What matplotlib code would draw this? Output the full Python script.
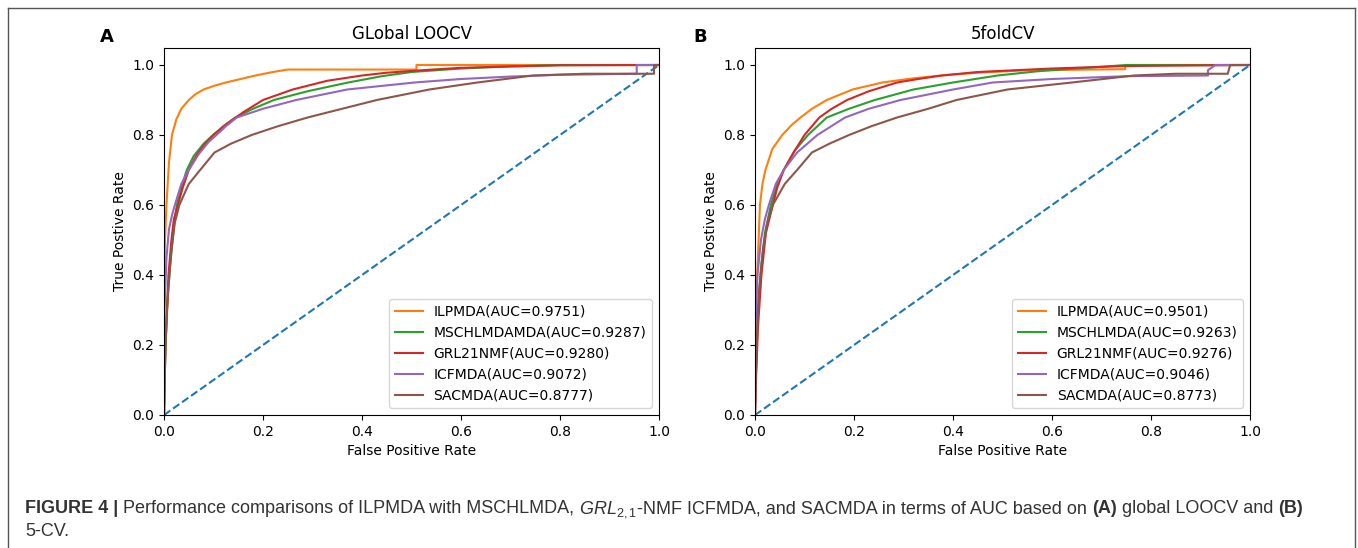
import matplotlib
matplotlib.use("Agg")
import matplotlib.pyplot as plt
from matplotlib.lines import Line2D

# ---- data ----
methods_a = ["ILPMDA(AUC=0.9751)", "MSCHLMDAMDA(AUC=0.9287)", "GRL21NMF(AUC=0.9280)",
             "ICFMDA(AUC=0.9072)", "SACMDA(AUC=0.8777)"]
methods_b = ["ILPMDA(AUC=0.9501)", "MSCHLMDA(AUC=0.9263)", "GRL21NMF(AUC=0.9276)",
             "ICFMDA(AUC=0.9046)", "SACMDA(AUC=0.8773)"]

# panel A : global LOOCV
a_ilpmda_fpr = [0, 0, 0.002, 0.005, 0.01, 0.016, 0.025, 0.035, 0.05, 0.065, 0.08, 0.1, 0.125, 0.155, 0.185, 0.22, 0.25, 0.51, 0.51, 1.0]
a_ilpmda_tpr = [0, 0.38, 0.5, 0.6, 0.72, 0.8, 0.845, 0.875, 0.9, 0.918, 0.93, 0.94, 0.95, 0.96, 0.97, 0.98, 0.987, 0.987, 1.0, 1.0]
a_msch_fpr = [0, 0.002, 0.006, 0.012, 0.02, 0.026, 0.035, 0.046, 0.06, 0.08, 0.099, 0.12, 0.144, 0.18, 0.222, 0.29, 0.372, 0.44, 0.5, 0.6, 0.7, 0.8, 1.0]
a_msch_tpr = [0, 0.15, 0.3, 0.42, 0.54, 0.6, 0.65, 0.7, 0.74, 0.775, 0.8, 0.825, 0.85, 0.875, 0.9, 0.925, 0.95, 0.968, 0.98, 0.99, 0.996, 1.0, 1.0]
a_grl_fpr = [0, 0.003, 0.006, 0.009, 0.015, 0.02, 0.028, 0.038, 0.05, 0.065, 0.08, 0.1, 0.125, 0.16, 0.2, 0.26, 0.33, 0.4, 0.45, 0.52, 0.6, 0.7, 0.8, 1.0]
a_grl_tpr = [0, 0.2, 0.3, 0.4, 0.5, 0.56, 0.6, 0.65, 0.7, 0.74, 0.77, 0.8, 0.83, 0.865, 0.9, 0.93, 0.955, 0.97, 0.978, 0.985, 0.992, 0.996, 0.999, 1.0]
a_icf_fpr = [0, 0.001, 0.005, 0.01, 0.016, 0.022, 0.035, 0.05, 0.07, 0.09, 0.106, 0.125, 0.147, 0.2, 0.267, 0.37, 0.506, 0.6, 0.7, 0.8, 0.955, 0.955, 1.0]
a_icf_tpr = [0, 0.3, 0.45, 0.53, 0.57, 0.6, 0.66, 0.7, 0.745, 0.78, 0.8, 0.825, 0.85, 0.875, 0.9, 0.93, 0.95, 0.96, 0.967, 0.972, 0.975, 1.0, 1.0]
a_sac_fpr = [0, 0.003, 0.008, 0.015, 0.022, 0.031, 0.05, 0.073, 0.102, 0.135, 0.177, 0.23, 0.29, 0.36, 0.43, 0.536, 0.633, 0.746, 0.85, 0.99, 0.99, 1.0]
a_sac_tpr = [0, 0.2, 0.35, 0.47, 0.55, 0.6, 0.66, 0.7, 0.75, 0.775, 0.8, 0.825, 0.85, 0.875, 0.9, 0.93, 0.95, 0.97, 0.975, 0.975, 1.0, 1.0]

# panel B : 5-fold CV
b_ilpmda_fpr = [0, 0.0, 0.002, 0.0045, 0.01, 0.015, 0.021, 0.035, 0.055, 0.075, 0.092, 0.115, 0.145, 0.197, 0.257, 0.32, 0.377, 0.45, 0.55, 0.748, 0.748, 1.0]
b_ilpmda_tpr = [0, 0.25, 0.33, 0.4, 0.6, 0.66, 0.7, 0.76, 0.8, 0.83, 0.85, 0.875, 0.9, 0.93, 0.95, 0.962, 0.97, 0.978, 0.985, 0.988, 1.0, 1.0]
b_msch_fpr = [0, 0.002, 0.006, 0.012, 0.02, 0.032, 0.045, 0.058, 0.08, 0.107, 0.145, 0.19, 0.242, 0.32, 0.4, 0.49, 0.57, 0.65, 0.75, 1.0]
b_msch_tpr = [0, 0.12, 0.3, 0.42, 0.52, 0.6, 0.66, 0.7, 0.755, 0.8, 0.85, 0.875, 0.9, 0.93, 0.95, 0.97, 0.982, 0.99, 1.0, 1.0]
b_grl_fpr = [0, 0.002, 0.006, 0.013, 0.022, 0.036, 0.045, 0.058, 0.078, 0.1, 0.13, 0.155, 0.186, 0.23, 0.287, 0.33, 0.377, 0.45, 0.6, 0.75, 1.0]
b_grl_tpr = [0, 0.1, 0.25, 0.4, 0.52, 0.6, 0.65, 0.7, 0.75, 0.8, 0.85, 0.875, 0.9, 0.925, 0.95, 0.96, 0.97, 0.98, 0.99, 0.997, 1.0]
b_icf_fpr = [0, 0.001, 0.005, 0.012, 0.02, 0.028, 0.042, 0.058, 0.085, 0.126, 0.182, 0.23, 0.294, 0.4, 0.48, 0.6, 0.75, 0.915, 0.915, 0.93, 1.0]
b_icf_tpr = [0, 0.25, 0.4, 0.5, 0.56, 0.6, 0.66, 0.7, 0.75, 0.8, 0.85, 0.875, 0.9, 0.93, 0.95, 0.96, 0.968, 0.97, 0.985, 1.0, 1.0]
b_sac_fpr = [0, 0.003, 0.008, 0.016, 0.025, 0.036, 0.06, 0.085, 0.115, 0.15, 0.19, 0.235, 0.287, 0.35, 0.407, 0.51, 0.64, 0.766, 0.85, 0.955, 0.96, 1.0]
b_sac_tpr = [0, 0.2, 0.35, 0.47, 0.55, 0.6, 0.66, 0.7, 0.75, 0.775, 0.8, 0.825, 0.85, 0.875, 0.9, 0.93, 0.95, 0.97, 0.975, 0.975, 1.0, 1.0]

curves_a = [(a_ilpmda_fpr, a_ilpmda_tpr), (a_msch_fpr, a_msch_tpr), (a_grl_fpr, a_grl_tpr),
            (a_icf_fpr, a_icf_tpr), (a_sac_fpr, a_sac_tpr)]
curves_b = [(b_ilpmda_fpr, b_ilpmda_tpr), (b_msch_fpr, b_msch_tpr), (b_grl_fpr, b_grl_tpr),
            (b_icf_fpr, b_icf_tpr), (b_sac_fpr, b_sac_tpr)]
colors = ["C1", "C2", "C3", "C4", "C5"]

W, H = 1358, 548
plt.rcParams["mathtext.fontset"] = "custom"
plt.rcParams["mathtext.it"] = "Liberation Sans:italic"
plt.rcParams["mathtext.rm"] = "Liberation Sans"
fig = plt.figure(figsize=(W / 100, H / 100), dpi=100)


def draw_panel(rect, curves, labels, title, letter, letter_x):
    ax = fig.add_axes(rect)
    ax.plot([0, 1], [0, 1], linestyle="--", color="C0")
    for (fpr, tpr), lab, c in zip(curves, labels, colors):
        ax.plot(fpr, tpr, color=c, label=lab)
    ax.set_xlim(0, 1)
    ax.set_ylim(0, 1.05)
    ax.set_xlabel("False Positive Rate")
    ax.set_ylabel("True Postive Rate")
    ax.set_title(title)
    ax.legend(loc="lower right")
    fig.text(letter_x / W, 1 - 37 / H, letter, fontsize=13, fontweight="bold",
             ha="center", va="center")
    return ax


draw_panel([164 / W, 1 - 415 / H, 495 / W, 367.5 / H], curves_a, methods_a,
           "GLobal LOOCV", "A", 107)
draw_panel([755 / W, 1 - 415 / H, 495 / W, 367.5 / H], curves_b, methods_b,
           "5foldCV", "B", 700)

# frame round the figure (no bottom edge)
fr = dict(color="#555555", lw=1.0, transform=fig.transFigure)
fig.add_artist(Line2D([8 / W, 8 / W], [0, 1 - 8 / H], **fr))
fig.add_artist(Line2D([8 / W, 1355 / W], [1 - 8 / H, 1 - 8 / H], **fr))
fig.add_artist(Line2D([1355 / W, 1355 / W], [0, 1 - 8 / H], **fr))

# caption with mixed weights
cap_font = dict(family="Liberation Sans", fontsize=13, color="#333333", va="baseline")
renderer = fig.canvas.get_renderer()


def caption_line(pieces, x0, y0):
    x = x0
    for txt, weight in pieces:
        t = fig.text(x / W, 1 - y0 / H, txt, fontweight=weight, **cap_font)
        bb = t.get_window_extent(renderer=renderer)
        x += bb.width


caption_line([("FIGURE 4 | ", "bold"),
              ("Performance comparisons of ILPMDA with MSCHLMDA, ", "normal"),
              (r"$GRL_{2,1}$", "normal"),
              ("-NMF ICFMDA, and SACMDA in terms of AUC based on ", "normal"),
              ("(A)", "bold"), (" global LOOCV and ", "normal"), ("(B)", "bold")],
             25, 513)
caption_line([("5-CV.", "normal")], 25, 536)

fig.savefig("out.png", dpi=100)
